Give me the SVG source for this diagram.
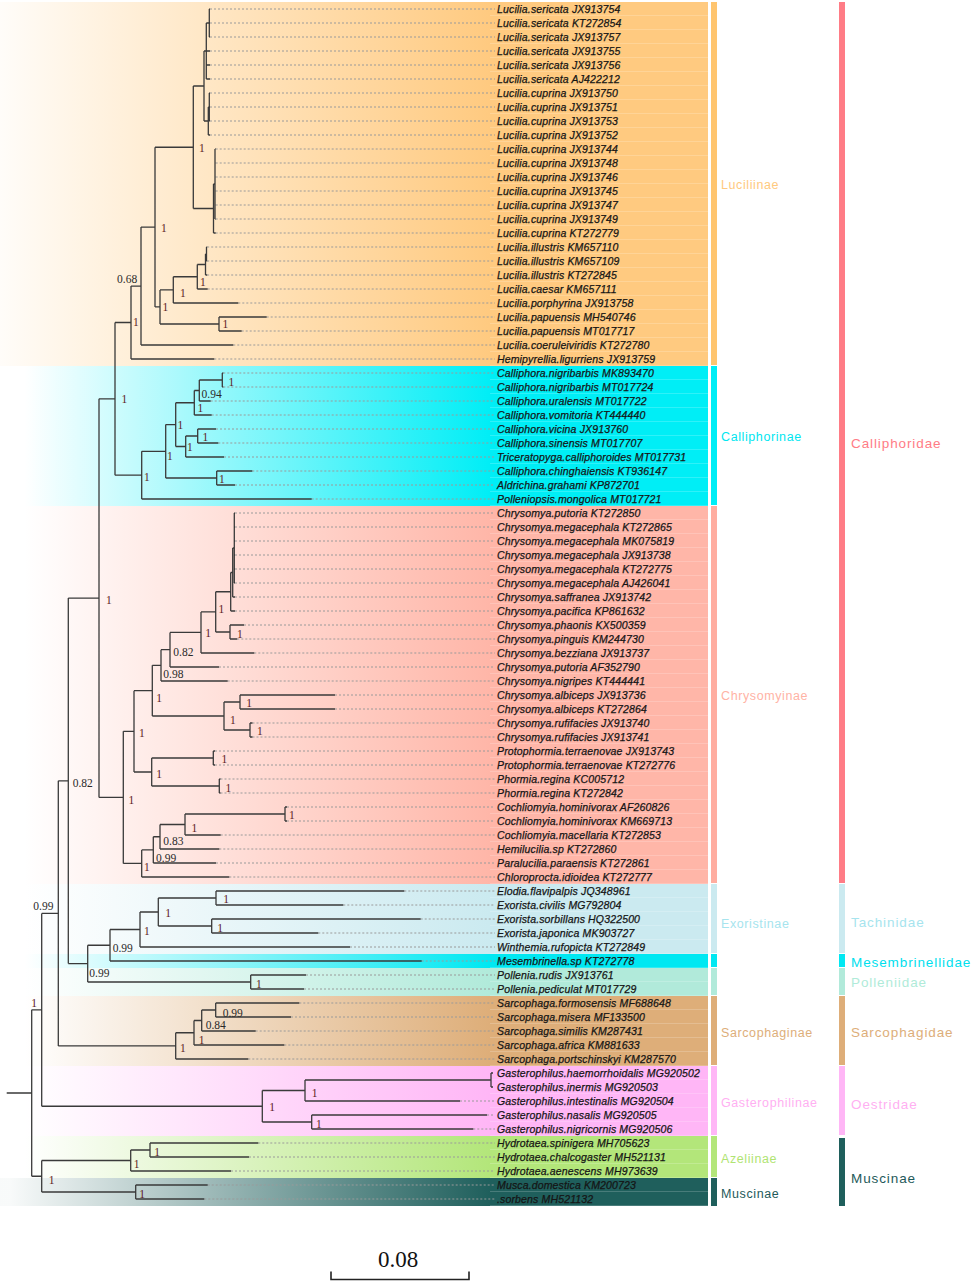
<svg xmlns="http://www.w3.org/2000/svg" width="976" height="1284" viewBox="0 0 976 1284">
<style>
.br{fill:none;stroke:#3a3a3a;stroke-width:1.3}
.ld{fill:none;stroke:#9a9a9a;stroke-width:1;stroke-dasharray:2 2}
.lf{font-family:"Liberation Sans",Arial,sans-serif;font-style:italic;font-size:10.5px;letter-spacing:0.15px;fill:#151515;stroke:#151515;stroke-width:0.25px}
.sp{font-family:"Liberation Serif","Times New Roman",serif;font-size:11.5px;fill:#2a2a2a}
.s1{fill:#5c1a24}
.sf{font-family:"Liberation Sans",Arial,sans-serif;font-size:12.5px;letter-spacing:0.6px}
.fm{font-family:"Liberation Sans",Arial,sans-serif;font-size:13.5px;letter-spacing:0.9px}
</style>
<defs>
<linearGradient id="gLu" gradientUnits="userSpaceOnUse" x1="0" y1="0" x2="490" y2="0"><stop offset="0" stop-color="#FFCA80" stop-opacity="0.05"/><stop offset="1" stop-color="#FFCA80"/></linearGradient>
<linearGradient id="gCa" gradientUnits="userSpaceOnUse" x1="0" y1="0" x2="490" y2="0"><stop offset="0.05" stop-color="#00EEF6" stop-opacity="0"/><stop offset="1" stop-color="#00EEF6"/></linearGradient>
<linearGradient id="gCh" gradientUnits="userSpaceOnUse" x1="0" y1="0" x2="490" y2="0"><stop offset="0.05" stop-color="#FFB6A8" stop-opacity="0"/><stop offset="1" stop-color="#FFB6A8"/></linearGradient>
<linearGradient id="gEx" gradientUnits="userSpaceOnUse" x1="0" y1="0" x2="490" y2="0"><stop offset="0.05" stop-color="#CBEAF0" stop-opacity="0"/><stop offset="1" stop-color="#CBEAF0"/></linearGradient>
<linearGradient id="gMe" gradientUnits="userSpaceOnUse" x1="0" y1="0" x2="490" y2="0"><stop offset="0.05" stop-color="#00E8F2" stop-opacity="0"/><stop offset="1" stop-color="#00E8F2"/></linearGradient>
<linearGradient id="gPo" gradientUnits="userSpaceOnUse" x1="0" y1="0" x2="490" y2="0"><stop offset="0.05" stop-color="#B1EADA" stop-opacity="0"/><stop offset="1" stop-color="#B1EADA"/></linearGradient>
<linearGradient id="gSa" gradientUnits="userSpaceOnUse" x1="0" y1="0" x2="490" y2="0"><stop offset="0.05" stop-color="#DEAE79" stop-opacity="0"/><stop offset="1" stop-color="#DEAE79"/></linearGradient>
<linearGradient id="gGa" gradientUnits="userSpaceOnUse" x1="0" y1="0" x2="490" y2="0"><stop offset="0.05" stop-color="#FFB6F6" stop-opacity="0"/><stop offset="1" stop-color="#FFB6F6"/></linearGradient>
<linearGradient id="gAz" gradientUnits="userSpaceOnUse" x1="0" y1="0" x2="490" y2="0"><stop offset="0.05" stop-color="#B3E67A" stop-opacity="0"/><stop offset="1" stop-color="#B3E67A"/></linearGradient>
<linearGradient id="gMu" gradientUnits="userSpaceOnUse" x1="0" y1="0" x2="490" y2="0"><stop offset="0.02" stop-color="#1F5F5C" stop-opacity="0.03"/><stop offset="1" stop-color="#1F5F5C"/></linearGradient>
<pattern id="rows" patternUnits="userSpaceOnUse" x="490" y="2" width="218" height="14"><rect x="0" y="13.4" width="218" height="0.8" fill="#ffffff" fill-opacity="0.3"/></pattern>
</defs>
<rect x="0" y="0" width="976" height="1284" fill="#ffffff"/>
<g id="bands">
<rect x="0" y="2" width="708" height="364" fill="url(#gLu)"/>
<rect x="0" y="366" width="708" height="140" fill="url(#gCa)"/>
<rect x="0" y="506" width="708" height="378" fill="url(#gCh)"/>
<rect x="0" y="884" width="708" height="70" fill="url(#gEx)"/>
<rect x="0" y="954" width="708" height="14" fill="url(#gMe)"/>
<rect x="0" y="968" width="708" height="28" fill="url(#gPo)"/>
<rect x="0" y="996" width="708" height="70" fill="url(#gSa)"/>
<rect x="0" y="1066" width="708" height="70" fill="url(#gGa)"/>
<rect x="0" y="1136" width="708" height="42" fill="url(#gAz)"/>
<rect x="0" y="1178" width="708" height="28" fill="url(#gMu)"/>
<rect x="490" y="2" width="218" height="1204" fill="url(#rows)"/>
</g>
<g id="subfamily-bars">
<rect x="711" y="2" width="6" height="363" fill="#FFC56F"/>
<rect x="711" y="366" width="6" height="139" fill="#00EEF6"/>
<rect x="711" y="506" width="6" height="377" fill="#FFADA0"/>
<rect x="711" y="884" width="6" height="69" fill="#CBEAF0"/>
<rect x="711" y="954" width="6" height="13" fill="#00E8F2"/>
<rect x="711" y="968" width="6" height="27" fill="#B1EADA"/>
<rect x="711" y="996" width="6" height="69" fill="#DEAE79"/>
<rect x="711" y="1066" width="6" height="69" fill="#FFB6F6"/>
<rect x="711" y="1136" width="6" height="41" fill="#B3E67A"/>
<rect x="711" y="1178" width="6" height="28" fill="#1F5F5C"/>
</g>
<g id="family-bars">
<rect x="839" y="2" width="6" height="881" fill="#FF7C86"/>
<rect x="839" y="884" width="6" height="69" fill="#CBEAF0"/>
<rect x="839" y="954" width="6" height="13" fill="#00E8F2"/>
<rect x="839" y="968" width="6" height="27" fill="#B1EADA"/>
<rect x="839" y="996" width="6" height="69" fill="#DEAE79"/>
<rect x="839" y="1066" width="6" height="69" fill="#FFB6F6"/>
<rect x="839" y="1138" width="6" height="68" fill="#1F5F5C"/>
</g>
<g id="connectors">
<path class="ld" d="M210,9H495M210,23H495M210,37H495M210,51H495M210,65H495M210,79H495M210,93H495M210,107H495M210,121H495M210,135H495M215.7,149H495M215.7,163H495M215.7,177H495M215.7,191H495M215.7,205H495M215.7,219H495M215.7,233H495M207.2,247H495M207.2,261H495M207.2,275H495M207.7,289H495M238.3,303H495M266.7,317H495M241.7,331H495M233.3,345H495M214.3,359H495M223.3,373H495M223.3,387H495M210.7,401H495M211.7,415H495M216,429H495M218.3,443H495M224,457H495M252.3,471H495M235,485H495M311.7,499H495M235,513H495M235,527H495M235,541H495M235,555H495M235,569H495M235,583H495M235,597H495M235,611H495M244,625H495M237.3,639H495M254.3,653H495M219,667H495M227.7,681H495M335,695H495M335,709H495M252.5,723H495M252.5,737H495M215,751H495M215,765H495M220.5,779H495M220.5,793H495M287,807H495M287,821H495M220.7,835H495M219.3,849H495M216,863H495M229.3,877H495M404.3,891H495M343.3,905H495M420.7,919H495M318.3,933H495M350,947H495M421.7,961H495M306,975H495M304,989H495M299.3,1003H495M291,1017H495M255.7,1031H495M284.3,1045H495M248.3,1059H495M460,1101H495M487,1115H495M473.3,1129H495M258.3,1143H495M249,1157H495M231,1171H495M207.7,1185H495M204.3,1199H495"/>
<path class="br" d="M209.3,9V37M209.3,9H210M209.3,23H210M209.3,37H210M206.3,23V79M206.3,23H209.3M206.3,51H210M206.3,65H210M206.3,79H210M209.3,93V121M209.3,93H210M209.3,107H210M209.3,121H210M208.3,107V135M208.3,107H209.3M208.3,135H210M204,51V121M204,51H206.3M204,121H208.3M215,149V219M215,149H215.7M215,163H215.7M215,177H215.7M215,191H215.7M215,205H215.7M215,219H215.7M213.5,184V233M213.5,184H215M213.5,233H215.7M193.3,86V208.5M193.3,86H204M193.3,208.5H213.5M206.5,247V261M206.5,247H207.2M206.5,261H207.2M205.5,254V275M205.5,254H206.5M205.5,275H207.2M197.3,264.5V289M197.3,264.5H205.5M197.3,289H207.7M173.3,276.75V303M173.3,276.75H197.3M173.3,303H238.3M219,317V331M219,317H266.7M219,331H241.7M160,289.9V324M160,289.9H173.3M160,324H219M155,147.25V306.95M155,147.25H193.3M155,306.95H160M141,227.1V345M141,227.1H155M141,345H233.3M131,286.05V359M131,286.05H141M131,359H214.3"/>
<path class="br" d="M222.3,373V387M222.3,373H223.3M222.3,387H223.3M199.3,380V401M199.3,380H222.3M199.3,401H210.7M194.3,390.5V415M194.3,390.5H199.3M194.3,415H211.7M197.7,429V443M197.7,429H216M197.7,443H218.3M185.7,436V457M185.7,436H197.7M185.7,457H224M175.7,402.75V446.5M175.7,402.75H194.3M175.7,446.5H185.7M216.7,471V485M216.7,471H252.3M216.7,485H235M165.7,424.6V478M165.7,424.6H175.7M165.7,478H216.7M141.7,451.3V499M141.7,451.3H165.7M141.7,499H311.7M115,322.5V475.15M115,322.5H131M115,475.15H141.7"/>
<path class="br" d="M234.3,513V583M234.3,513H235M234.3,527H235M234.3,541H235M234.3,555H235M234.3,569H235M234.3,583H235M232.7,548V597M232.7,548H234.3M232.7,597H235M230.7,572.5V611M230.7,572.5H232.7M230.7,611H235M230,625V639M230,625H244M230,639H237.3M215.7,591.75V632M215.7,591.75H230.7M215.7,632H230M201,611.9V653M201,611.9H215.7M201,653H254.3M170,632.45V667M170,632.45H201M170,667H219M161,649.7V681M161,649.7H170M161,681H227.7M240,695V709M240,695H335M240,709H335M250,723V737M250,723H252.5M250,737H252.5M224,702V730M224,702H240M224,730H250M152.3,665.35V716M152.3,665.35H161M152.3,716H224M213.3,751V765M213.3,751H215M213.3,765H215M219.3,779V793M219.3,779H220.5M219.3,793H220.5M151.7,758V786M151.7,758H213.3M151.7,786H219.3M134,690.7V772M134,690.7H152.3M134,772H151.7M285,807V821M285,807H287M285,821H287M185,814V835M185,814H285M185,835H220.7M160,824.5V849M160,824.5H185M160,849H219.3M153.3,836.75V863M153.3,836.75H160M153.3,863H216M141.7,849.9V877M141.7,849.9H153.3M141.7,877H229.3M123.3,731.35V863.45M123.3,731.35H134M123.3,863.45H141.7M99,398.8V797.4M99,398.8H115M99,797.4H123.3"/>
<path class="br" d="M216,891V905M216,891H404.3M216,905H343.3M211.7,919V933M211.7,919H420.7M211.7,933H318.3M158.3,898V926M158.3,898H216M158.3,926H211.7M140,912V947M140,912H158.3M140,947H350M110,929.5V961M110,929.5H140M110,961H421.7M250.7,975V989M250.7,975H306M250.7,989H304M87.7,945.25V982M87.7,945.25H110M87.7,982H250.7M68.3,598.1V963.6M68.3,598.1H99M68.3,963.6H87.7M215.7,1003V1017M215.7,1003H299.3M215.7,1017H291M201.7,1010V1031M201.7,1010H215.7M201.7,1031H255.7M194,1020.5V1045M194,1020.5H201.7M194,1045H284.3M175.7,1032.75V1059M175.7,1032.75H194M175.7,1059H248.3M58.3,780.85V1045.9M58.3,780.85H68.3M58.3,1045.9H175.7"/>
<path class="br" d="M491,1073V1087M491,1073H493M491,1087H493M305,1080V1101M305,1080H491M305,1101H460M311.7,1115V1129M311.7,1115H487M311.7,1129H473.3M262.3,1090.5V1122M262.3,1090.5H305M262.3,1122H311.7M41.7,913.4V1106.25M41.7,913.4H58.3M41.7,1106.25H262.3M150,1143V1157M150,1143H258.3M150,1157H249M130.7,1150V1171M130.7,1150H150M130.7,1171H231M135.7,1185V1199M135.7,1185H207.7M135.7,1199H204.3M41.7,1160.5V1192M41.7,1160.5H130.7M41.7,1192H135.7M31.7,1009.8V1176.25M31.7,1009.8H41.7M31.7,1176.25H41.7M6.7,1093H31.7"/>
</g>
<g id="support-values" class="sp">
<text class="s1" x="199" y="151.5">1</text>
<text class="s1" x="161" y="232">1</text>
<text class="s1" x="162.5" y="311">1</text>
<text class="s1" x="180" y="297">1</text>
<text class="s1" x="200" y="286">1</text>
<text class="s1" x="222.5" y="328">1</text>
<text class="s1" x="133" y="326">1</text>
<text x="117" y="283">0.68</text>
<text class="s1" x="121.5" y="403">1</text>
<text class="s1" x="228.5" y="386">1</text>
<text x="201.5" y="398">0.94</text>
<text class="s1" x="197.5" y="412">1</text>
<text class="s1" x="202.5" y="441">1</text>
<text class="s1" x="187" y="451">1</text>
<text class="s1" x="177.5" y="429">1</text>
<text class="s1" x="167" y="459.5">1</text>
<text class="s1" x="219" y="482.5">1</text>
<text class="s1" x="144" y="481">1</text>
<text class="s1" x="106" y="604.3">1</text>
<text class="s1" x="128.5" y="804">1</text>
<text class="s1" x="139" y="737">1</text>
<text class="s1" x="156.3" y="701.8">1</text>
<text x="163.3" y="678">0.98</text>
<text x="173.3" y="655.7">0.82</text>
<text class="s1" x="205.3" y="637.3">1</text>
<text class="s1" x="218.5" y="613">1</text>
<text class="s1" x="237" y="637.7">1</text>
<text class="s1" x="230" y="724">1</text>
<text class="s1" x="246.3" y="707.3">1</text>
<text class="s1" x="257" y="735">1</text>
<text class="s1" x="156.3" y="778">1</text>
<text class="s1" x="221.5" y="763">1</text>
<text class="s1" x="225.5" y="791.5">1</text>
<text class="s1" x="144" y="870.7">1</text>
<text x="156" y="862">0.99</text>
<text x="163.3" y="844.5">0.83</text>
<text class="s1" x="191.5" y="831.5">1</text>
<text class="s1" x="289" y="819">1</text>
<text x="72.7" y="787.3">0.82</text>
<text x="33.3" y="910">0.99</text>
<text class="s1" x="31.3" y="1007">1</text>
<text class="s1" x="223.3" y="903">1</text>
<text class="s1" x="165.3" y="917.3">1</text>
<text class="s1" x="217.3" y="932.3">1</text>
<text class="s1" x="144" y="934.8">1</text>
<text x="112.7" y="951.8">0.99</text>
<text x="89.3" y="976.5">0.99</text>
<text class="s1" x="256" y="988">1</text>
<text x="222.7" y="1016.8">0.99</text>
<text x="205.7" y="1029">0.84</text>
<text class="s1" x="198.7" y="1044">1</text>
<text class="s1" x="180" y="1052.3">1</text>
<text class="s1" x="311.7" y="1096.5">1</text>
<text class="s1" x="269.3" y="1110.8">1</text>
<text class="s1" x="316" y="1128.3">1</text>
<text class="s1" x="154.3" y="1155.7">1</text>
<text class="s1" x="133.7" y="1167.5">1</text>
<text class="s1" x="48.7" y="1183.7">1</text>
<text class="s1" x="139.3" y="1197.8">1</text>
</g>
<g id="leaves" class="lf">
<g id="leaf-00"><text x="497" y="12.8">Lucilia.sericata JX913754</text></g>
<g id="leaf-01"><text x="497" y="26.8">Lucilia.sericata KT272854</text></g>
<g id="leaf-02"><text x="497" y="40.8">Lucilia.sericata JX913757</text></g>
<g id="leaf-03"><text x="497" y="54.8">Lucilia.sericata JX913755</text></g>
<g id="leaf-04"><text x="497" y="68.8">Lucilia.sericata JX913756</text></g>
<g id="leaf-05"><text x="497" y="82.8">Lucilia.sericata AJ422212</text></g>
<g id="leaf-06"><text x="497" y="96.8">Lucilia.cuprina JX913750</text></g>
<g id="leaf-07"><text x="497" y="110.8">Lucilia.cuprina JX913751</text></g>
<g id="leaf-08"><text x="497" y="124.8">Lucilia.cuprina JX913753</text></g>
<g id="leaf-09"><text x="497" y="138.8">Lucilia.cuprina JX913752</text></g>
<g id="leaf-10"><text x="497" y="152.8">Lucilia.cuprina JX913744</text></g>
<g id="leaf-11"><text x="497" y="166.8">Lucilia.cuprina JX913748</text></g>
<g id="leaf-12"><text x="497" y="180.8">Lucilia.cuprina JX913746</text></g>
<g id="leaf-13"><text x="497" y="194.8">Lucilia.cuprina JX913745</text></g>
<g id="leaf-14"><text x="497" y="208.8">Lucilia.cuprina JX913747</text></g>
<g id="leaf-15"><text x="497" y="222.8">Lucilia.cuprina JX913749</text></g>
<g id="leaf-16"><text x="497" y="236.8">Lucilia.cuprina KT272779</text></g>
<g id="leaf-17"><text x="497" y="250.8">Lucilia.illustris KM657110</text></g>
<g id="leaf-18"><text x="497" y="264.8">Lucilia.illustris KM657109</text></g>
<g id="leaf-19"><text x="497" y="278.8">Lucilia.illustris KT272845</text></g>
<g id="leaf-20"><text x="497" y="292.8">Lucilia.caesar KM657111</text></g>
<g id="leaf-21"><text x="497" y="306.8">Lucilia.porphyrina JX913758</text></g>
<g id="leaf-22"><text x="497" y="320.8">Lucilia.papuensis MH540746</text></g>
<g id="leaf-23"><text x="497" y="334.8">Lucilia.papuensis MT017717</text></g>
<g id="leaf-24"><text x="497" y="348.8">Lucilia.coeruleiviridis KT272780</text></g>
<g id="leaf-25"><text x="497" y="362.8">Hemipyrellia.ligurriens JX913759</text></g>
<g id="leaf-26"><text x="497" y="376.8">Calliphora.nigribarbis MK893470</text></g>
<g id="leaf-27"><text x="497" y="390.8">Calliphora.nigribarbis MT017724</text></g>
<g id="leaf-28"><text x="497" y="404.8">Calliphora.uralensis MT017722</text></g>
<g id="leaf-29"><text x="497" y="418.8">Calliphora.vomitoria KT444440</text></g>
<g id="leaf-30"><text x="497" y="432.8">Calliphora.vicina JX913760</text></g>
<g id="leaf-31"><text x="497" y="446.8">Calliphora.sinensis MT017707</text></g>
<g id="leaf-32"><text x="497" y="460.8">Triceratopyga.calliphoroides MT017731</text></g>
<g id="leaf-33"><text x="497" y="474.8">Calliphora.chinghaiensis KT936147</text></g>
<g id="leaf-34"><text x="497" y="488.8">Aldrichina.grahami KP872701</text></g>
<g id="leaf-35"><text x="497" y="502.8">Polleniopsis.mongolica MT017721</text></g>
<g id="leaf-36"><text x="497" y="516.8">Chrysomya.putoria KT272850</text></g>
<g id="leaf-37"><text x="497" y="530.8">Chrysomya.megacephala KT272865</text></g>
<g id="leaf-38"><text x="497" y="544.8">Chrysomya.megacephala MK075819</text></g>
<g id="leaf-39"><text x="497" y="558.8">Chrysomya.megacephala JX913738</text></g>
<g id="leaf-40"><text x="497" y="572.8">Chrysomya.megacephala KT272775</text></g>
<g id="leaf-41"><text x="497" y="586.8">Chrysomya.megacephala AJ426041</text></g>
<g id="leaf-42"><text x="497" y="600.8">Chrysomya.saffranea JX913742</text></g>
<g id="leaf-43"><text x="497" y="614.8">Chrysomya.pacifica KP861632</text></g>
<g id="leaf-44"><text x="497" y="628.8">Chrysomya.phaonis KX500359</text></g>
<g id="leaf-45"><text x="497" y="642.8">Chrysomya.pinguis KM244730</text></g>
<g id="leaf-46"><text x="497" y="656.8">Chrysomya.bezziana JX913737</text></g>
<g id="leaf-47"><text x="497" y="670.8">Chrysomya.putoria AF352790</text></g>
<g id="leaf-48"><text x="497" y="684.8">Chrysomya.nigripes KT444441</text></g>
<g id="leaf-49"><text x="497" y="698.8">Chrysomya.albiceps JX913736</text></g>
<g id="leaf-50"><text x="497" y="712.8">Chrysomya.albiceps KT272864</text></g>
<g id="leaf-51"><text x="497" y="726.8">Chrysomya.rufifacies JX913740</text></g>
<g id="leaf-52"><text x="497" y="740.8">Chrysomya.rufifacies JX913741</text></g>
<g id="leaf-53"><text x="497" y="754.8">Protophormia.terraenovae JX913743</text></g>
<g id="leaf-54"><text x="497" y="768.8">Protophormia.terraenovae KT272776</text></g>
<g id="leaf-55"><text x="497" y="782.8">Phormia.regina KC005712</text></g>
<g id="leaf-56"><text x="497" y="796.8">Phormia.regina KT272842</text></g>
<g id="leaf-57"><text x="497" y="810.8">Cochliomyia.hominivorax AF260826</text></g>
<g id="leaf-58"><text x="497" y="824.8">Cochliomyia.hominivorax KM669713</text></g>
<g id="leaf-59"><text x="497" y="838.8">Cochliomyia.macellaria KT272853</text></g>
<g id="leaf-60"><text x="497" y="852.8">Hemilucilia.sp KT272860</text></g>
<g id="leaf-61"><text x="497" y="866.8">Paralucilia.paraensis KT272861</text></g>
<g id="leaf-62"><text x="497" y="880.8">Chloroprocta.idioidea KT272777</text></g>
<g id="leaf-63"><text x="497" y="894.8">Elodia.flavipalpis JQ348961</text></g>
<g id="leaf-64"><text x="497" y="908.8">Exorista.civilis MG792804</text></g>
<g id="leaf-65"><text x="497" y="922.8">Exorista.sorbillans HQ322500</text></g>
<g id="leaf-66"><text x="497" y="936.8">Exorista.japonica MK903727</text></g>
<g id="leaf-67"><text x="497" y="950.8">Winthemia.rufopicta KT272849</text></g>
<g id="leaf-68"><text x="497" y="964.8">Mesembrinella.sp KT272778</text></g>
<g id="leaf-69"><text x="497" y="978.8">Pollenia.rudis JX913761</text></g>
<g id="leaf-70"><text x="497" y="992.8">Pollenia.pediculat MT017729</text></g>
<g id="leaf-71"><text x="497" y="1006.8">Sarcophaga.formosensis MF688648</text></g>
<g id="leaf-72"><text x="497" y="1020.8">Sarcophaga.misera MF133500</text></g>
<g id="leaf-73"><text x="497" y="1034.8">Sarcophaga.similis KM287431</text></g>
<g id="leaf-74"><text x="497" y="1048.8">Sarcophaga.africa KM881633</text></g>
<g id="leaf-75"><text x="497" y="1062.8">Sarcophaga.portschinskyi KM287570</text></g>
<g id="leaf-76"><text x="497" y="1076.8">Gasterophilus.haemorrhoidalis MG920502</text></g>
<g id="leaf-77"><text x="497" y="1090.8">Gasterophilus.inermis MG920503</text></g>
<g id="leaf-78"><text x="497" y="1104.8">Gasterophilus.intestinalis MG920504</text></g>
<g id="leaf-79"><text x="497" y="1118.8">Gasterophilus.nasalis MG920505</text></g>
<g id="leaf-80"><text x="497" y="1132.8">Gasterophilus.nigricornis MG920506</text></g>
<g id="leaf-81"><text x="497" y="1146.8">Hydrotaea.spinigera MH705623</text></g>
<g id="leaf-82"><text x="497" y="1160.8">Hydrotaea.chalcogaster MH521131</text></g>
<g id="leaf-83"><text x="497" y="1174.8">Hydrotaea.aenescens MH973639</text></g>
<g id="leaf-84"><text x="497" y="1188.8">Musca.domestica KM200723</text></g>
<g id="leaf-85"><text x="497" y="1202.8">.sorbens MH521132</text></g>
</g>
<g id="subfamily-labels" class="sf">
<g id="sub-luciliinae"><text x="721" y="188.5" fill="#FFC97E">Luciliinae</text></g>
<g id="sub-calliphorinae"><text x="721" y="440.5" fill="#00E6F0">Calliphorinae</text></g>
<g id="sub-chrysomyinae"><text x="721" y="699.5" fill="#FFB3A5">Chrysomyinae</text></g>
<g id="sub-exoristinae"><text x="721" y="927.5" fill="#A6E4EE">Exoristinae</text></g>
<g id="sub-sarcophaginae"><text x="721" y="1036.5" fill="#DDAE7A">Sarcophaginae</text></g>
<g id="sub-gasterophilinae"><text x="721" y="1106.5" fill="#FFB0F2">Gasterophilinae</text></g>
<g id="sub-azeliinae"><text x="721" y="1162.5" fill="#B0E472">Azeliinae</text></g>
<g id="sub-muscinae"><text x="721" y="1197.5" fill="#1E5A5A">Muscinae</text></g>
</g>
<g id="family-labels" class="fm">
<g id="fam-calliphoridae"><text x="851" y="448" fill="#FF7C86">Calliphoridae</text></g>
<g id="fam-tachinidae"><text x="851" y="927" fill="#A6E4EE">Tachinidae</text></g>
<g id="fam-mesembrinellidae"><text x="851" y="967" fill="#00E0EE">Mesembrinellidae</text></g>
<g id="fam-polleniidae"><text x="851" y="987" fill="#B0EBD9">Polleniidae</text></g>
<g id="fam-sarcophagidae"><text x="851" y="1037" fill="#DDAE7A">Sarcophagidae</text></g>
<g id="fam-oestridae"><text x="851" y="1109" fill="#FFB0F2">Oestridae</text></g>
<g id="fam-muscinae"><text x="851" y="1183" fill="#1E5A5A">Muscinae</text></g>
</g>
<g id="scale-bar">
<path d="M331,1271.5V1279.5H469V1271.5" fill="none" stroke="#222" stroke-width="1.6"/>
<text x="398" y="1266.5" text-anchor="middle" font-family="'Liberation Serif','Times New Roman',serif" font-size="23" fill="#111">0.08</text>
</g>
</svg>
